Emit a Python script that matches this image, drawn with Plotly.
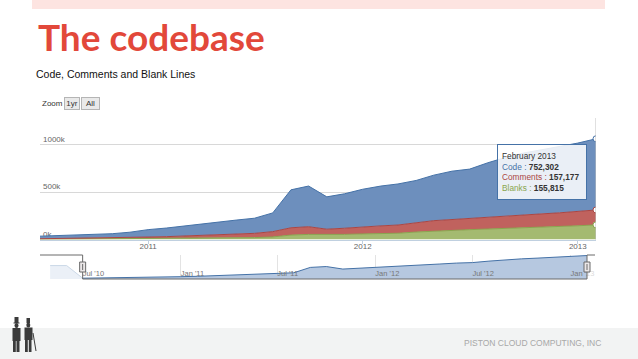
import plotly.graph_objects as go
import pandas as pd

# ---------------- data ----------------
months = pd.date_range("2010-07-01", periods=32, freq="MS")
code = [27100, 31200, 35400, 40300, 45200, 57100, 78300, 91200, 106000, 126000,
        140000, 149000, 160000, 198000, 401000, 430000, 342000, 364000, 396000, 421000,
        434000, 447000, 481000, 511000, 520000, 572000, 618000, 653000, 678000, 702000,
        725000, 752302]
comments = [5100, 6000, 7000, 8000, 9100, 12000, 16000, 19000, 22000, 28000,
            33000, 39000, 45000, 56000, 77000, 81000, 58000, 65000, 76000, 82000,
            87000, 98000, 110000, 115000, 120000, 128000, 134000, 138000, 141000, 145000,
            149000, 157177]
blanks = [4000, 5000, 6000, 7000, 8000, 9000, 11000, 12000, 14000, 16000,
          17000, 19000, 21000, 28000, 48000, 55000, 52000, 55000, 60000, 63000,
          67000, 80000, 90000, 97000, 105000, 112000, 118000, 124000, 131000, 138000,
          146000, 155815]
# earlier history only visible (masked) in the navigator
early_months = pd.to_datetime(["2010-05-01", "2010-06-01"])
early_total = [610000, 610000]

year_ticks = pd.to_datetime(["2011-01-01", "2012-01-01", "2013-01-01"])
year_labels = ["2011", "2012", "2013"]
y_ticks = [0, 500000, 1000000]
y_labels = ["0k", "500k", "1000k"]
nav_ticks = pd.to_datetime(["2010-07-01", "2011-01-01", "2011-07-01",
                            "2012-01-01", "2012-07-01", "2013-01-01"])
nav_labels = ["Jul '10", "Jan '11", "Jul '11", "Jan '12", "Jul '12", "Jan '13"]

series_names = ["Code", "Comments", "Blanks"]
line_colors = {"Code": "#4572A7", "Comments": "#AA4643", "Blanks": "#89A54E"}
fill_colors = {"Code": "#6d8fbd", "Comments": "#c0625e", "Blanks": "#a4ba70"}

W, H = 638, 359
def px(x): return x / W
def py(y): return 1 - y / H

fig = go.Figure()

# stacked areas (bottom -> top)
for name, vals in [("Blanks", blanks), ("Comments", comments), ("Code", code)]:
    fig.add_trace(go.Scatter(
        x=months, y=vals, name=name, mode="lines", stackgroup="s",
        line=dict(color=line_colors[name], width=1),
        fillcolor=fill_colors[name], hoverinfo="skip", showlegend=False,
        xaxis="x", yaxis="y"))

# hover markers on last point
tot_last = [blanks[-1], blanks[-1] + comments[-1], blanks[-1] + comments[-1] + code[-1]]
fig.add_trace(go.Scatter(
    x=[months[-1]] * 3, y=tot_last, mode="markers",
    marker=dict(size=6, color="white",
                line=dict(width=1, color=[line_colors["Blanks"], line_colors["Comments"], line_colors["Code"]])),
    showlegend=False, hoverinfo="skip", xaxis="x", yaxis="y"))

# navigator series
nav_x = list(early_months) + list(months)
nav_y = early_total + [c + m + b for c, m, b in zip(code, comments, blanks)]
fig.add_trace(go.Scatter(
    x=nav_x, y=nav_y, mode="lines", fill="tozeroy",
    line=dict(color="#4572A7", width=1), fillcolor="#b6c8e0",
    showlegend=False, hoverinfo="skip", xaxis="x2", yaxis="y2"))

nav_start, nav_end = "2010-04-12", "2013-02-16"

shapes = []
# top pink bar
shapes.append(dict(type="rect", xref="paper", yref="paper", x0=px(32), x1=px(605),
                   y0=py(9), y1=py(0), fillcolor="#fde4e1", line=dict(width=0), layer="below"))
# footer band
shapes.append(dict(type="rect", xref="paper", yref="paper", x0=0, x1=1,
                   y0=0, y1=py(328), fillcolor="#f2f3f3", line=dict(width=0), layer="below"))
# crosshair
shapes.append(dict(type="line", xref="x", yref="y domain", x0=months[-1], x1=months[-1],
                   y0=0, y1=1, line=dict(color="#c0c0c0", width=1)))
# navigator masks
shapes.append(dict(type="rect", xref="x2", yref="y2 domain", x0=nav_start, x1=months[0],
                   y0=0, y1=1, fillcolor="rgba(255,255,255,0.72)", line=dict(width=0)))
shapes.append(dict(type="rect", xref="x2", yref="y2 domain", x0=months[-1], x1=nav_end,
                   y0=0, y1=1, fillcolor="rgba(255,255,255,0.72)", line=dict(width=0)))
# navigator outline
oc = dict(color="#6b6b6b", width=1)
shapes += [
    dict(type="line", xref="x2", yref="y2 domain", x0=nav_start, x1=months[0], y0=1, y1=1, line=oc),
    dict(type="line", xref="x2", yref="y2 domain", x0=months[0], x1=months[0], y0=1, y1=0, line=oc),
    dict(type="line", xref="x2", yref="y2 domain", x0=months[0], x1=months[-1], y0=0, y1=0, line=oc),
    dict(type="line", xref="x2", yref="y2 domain", x0=months[-1], x1=months[-1], y0=0, y1=1, line=oc),
    dict(type="line", xref="x2", yref="y2 domain", x0=months[-1], x1=nav_end, y0=1, y1=1, line=oc),
]
# handles
for hx in [months[0], months[-1]]:
    shapes.append(dict(type="rect", xref="x2", yref="y2 domain", xsizemode="pixel", ysizemode="pixel",
                       xanchor=hx, yanchor=0.5, x0=-3, x1=3, y0=-5, y1=5,
                       fillcolor="#ebe7e8", line=dict(color="#6b6b6b", width=1)))
    shapes.append(dict(type="line", xref="x2", yref="y2 domain", xsizemode="pixel", ysizemode="pixel",
                       xanchor=hx, yanchor=0.5, x0=0, x1=0, y0=-3, y1=3,
                       line=dict(color="#6b6b6b", width=1)))

# silhouettes (decor)
dark = "#3b3b3b"
def rect(x0, y0, x1, y1):
    return dict(type="rect", xref="paper", yref="paper", x0=px(x0), x1=px(x1), y0=py(y1), y1=py(y0),
                fillcolor=dark, line=dict(width=0))
def circ(x0, y0, x1, y1):
    return dict(type="circle", xref="paper", yref="paper", x0=px(x0), x1=px(x1), y0=py(y1), y1=py(y0),
                fillcolor=dark, line=dict(width=0))
shapes += [rect(14.5, 317, 18.5, 323), rect(13.5, 322.5, 19.5, 323.5), circ(14.5, 323, 18.5, 328),
           rect(12.5, 328, 20.5, 341), rect(13, 340, 15.8, 352), rect(16.5, 340, 19.5, 352),
           rect(26.5, 318, 30, 323), circ(26.3, 322.5, 30.3, 327.5),
           rect(24.5, 327.5, 32.5, 340), rect(25, 339, 27.8, 352), rect(28.8, 339, 31.5, 352),
           dict(type="line", xref="paper", yref="paper", x0=px(33), x1=px(36), y0=py(333), y1=py(351),
                line=dict(color=dark, width=1))]

ann = []
ann.append(dict(xref="paper", yref="paper", x=px(36), y=py(36), xanchor="left", yanchor="middle",
                text="<b>The codebase</b>", showarrow=False,
                font=dict(family="Lato, sans-serif", size=37, color="#e2483a")))
ann.append(dict(xref="paper", yref="paper", x=px(34), y=py(74), xanchor="left", yanchor="middle",
                text="Code, Comments and Blank Lines", showarrow=False,
                font=dict(family="Liberation Sans, Arial, sans-serif", size=10.5, color="#111")))
ann.append(dict(xref="paper", yref="paper", x=px(40), y=py(103.5), xanchor="left", yanchor="middle",
                text="Zoom", showarrow=False,
                font=dict(family="Liberation Sans, Arial, sans-serif", size=8, color="#333")))
for lbl, cx, bw in [("1yr", 72, 12), ("All", 90.5, 15)]:
    ann.append(dict(xref="paper", yref="paper", x=px(cx), y=py(103.5), xanchor="center", yanchor="middle",
                    text=lbl, showarrow=False, width=bw, height=9, borderpad=1,
                    bgcolor="#e9e9e9", bordercolor="#b5b5b5", borderwidth=1,
                    font=dict(family="Liberation Sans, Arial, sans-serif", size=8, color="#333")))
# tooltip
vals = {"Code": code[-1], "Comments": comments[-1], "Blanks": blanks[-1]}
lines = [months[-1].strftime("%B %Y")]
for n in series_names:
    lines.append(f"<span style='color:{line_colors[n]}'>{n} : </span><b>{vals[n]:,}</b>")
ann.append(dict(xref="paper", yref="paper", x=px(497), y=py(144), xanchor="left", yanchor="top",
                text="<br>".join(lines), showarrow=False, align="left", valign="middle",
                width=80, height=46, borderpad=4, borderwidth=1, bordercolor="#4572A7",
                bgcolor="rgba(255,255,255,0.86)",
                font=dict(family="Liberation Sans, Arial, sans-serif", size=8.3, color="#333")))
ann.append(dict(xref="paper", yref="paper", x=px(603), y=py(343), xanchor="right", yanchor="middle",
                text="PISTON CLOUD COMPUTING, INC", showarrow=False,
                font=dict(family="Liberation Sans Narrow, Liberation Sans, sans-serif", size=8.5, color="#a8a8a8")))

tick_font = dict(family="Liberation Sans, Arial, sans-serif", size=8, color="#666")
fig.update_layout(
    width=W, height=H, autosize=False, margin=dict(l=0, r=0, t=0, b=0),
    paper_bgcolor="white", plot_bgcolor="rgba(0,0,0,0)", showlegend=False,
    xaxis=dict(domain=[px(40), px(596)], type="date", range=[months[0], months[-1]],
               tickvals=year_ticks, ticktext=year_labels, tickfont=tick_font,
               ticks="outside", ticklen=3, tickcolor="#C0D0E0", ticklabelstandoff=-4,
               showgrid=False, showline=True, linecolor="#C0D0E0", zeroline=False, anchor="y"),
    yaxis=dict(domain=[py(239.6), py(118)], range=[0, 1285000], tickvals=y_ticks, ticktext=y_labels,
               ticklabelposition="inside top", tickfont=tick_font, showgrid=True,
               gridcolor="#d8d8d8", gridwidth=1, zeroline=False, showline=False,
               layer="below traces", anchor="x"),
    xaxis2=dict(domain=[px(40), px(595)], type="date", range=[nav_start, nav_end],
                tickvals=nav_ticks, ticktext=nav_labels, ticklabelposition="inside right",
                ticklabelstandoff=-4,
                tickfont=dict(family="Liberation Sans, Arial, sans-serif", size=7.5, color="#777"),
                showgrid=True, gridcolor="#e3e3e3", ticks="", showline=False, zeroline=False,
                anchor="y2", layer="above traces"),
    yaxis2=dict(domain=[py(279), py(255)], range=[0, 1090000], showgrid=False, showticklabels=False,
                zeroline=False, showline=False, anchor="x2"),
    shapes=shapes, annotations=ann,
)

fig.write_html("out.html", config={"displayModeBar": False},
               post_script="document.body.style.margin='0';")
